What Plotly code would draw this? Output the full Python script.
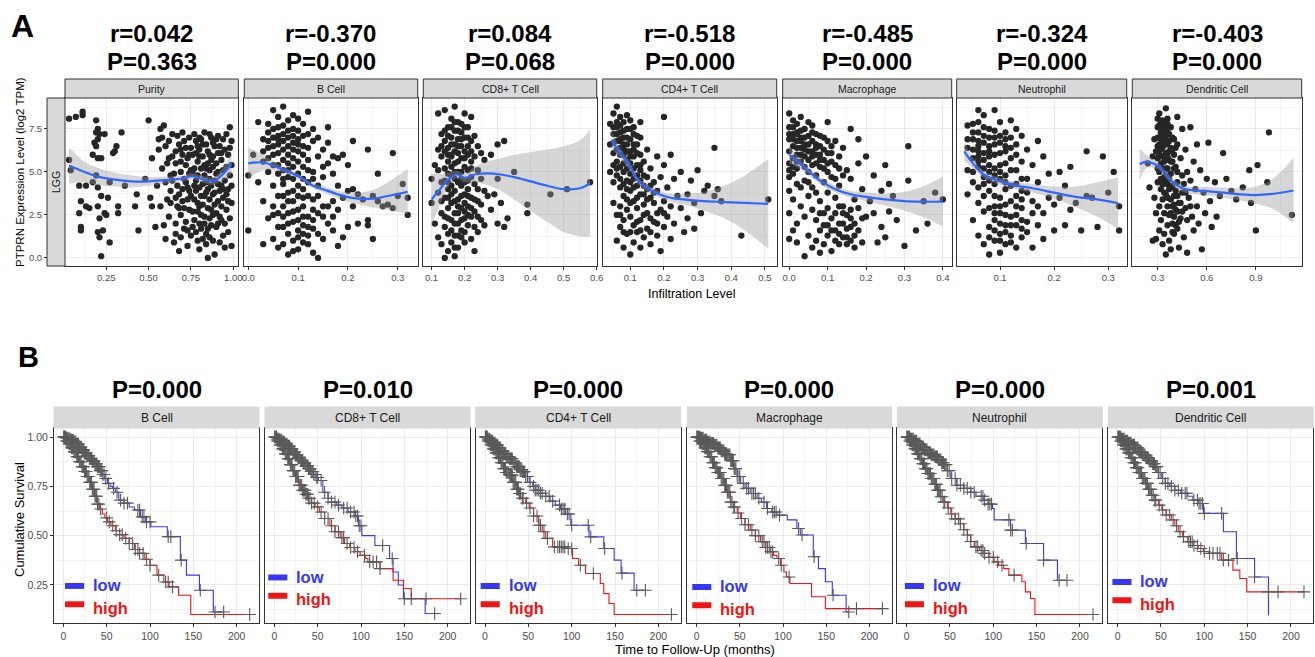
import plotly.graph_objects as go

W, H = 1315, 657
FONT = "Arial, 'Liberation Sans', Helvetica, sans-serif"

# ================= Panel A data =================
a_panels = ["Purity", "B Cell", "CD8+ T Cell", "CD4+ T Cell", "Macrophage", "Neutrophil", "Dendritic Cell"]
a_r_labels = ["r=0.042", "r=-0.370", "r=0.084", "r=-0.518", "r=-0.485", "r=-0.324", "r=-0.403"]
a_p_labels = ["P=0.363", "P=0.000", "P=0.068", "P=0.000", "P=0.000", "P=0.000", "P=0.000"]
a_row_label = "LGG"

purity_pts = [
    (0.03, 8.1), (0.07, 8.2), (0.11, 8.5), (0.11, 8.3), (0.04, 5.1), (0.03, 5.7), (0.09, 4.2), (0.10, 3.3),
    (0.13, 3.0), (0.15, 2.9), (0.09, 2.6), (0.10, 1.8), (0.10, 1.6), (0.13, 4.2), (0.19, 8.0), (0.20, 7.5),
    (0.19, 7.3), (0.21, 7.2), (0.20, 6.9), (0.18, 6.7), (0.19, 6.5), (0.17, 6.0), (0.20, 5.8), (0.19, 4.8),
    (0.17, 4.4), (0.22, 5.8), (0.20, 4.1), (0.22, 3.6), (0.20, 3.0), (0.21, 2.3), (0.20, 1.5), (0.21, 1.2),
    (0.22, 0.1), (0.24, 2.6), (0.23, 1.6), (0.25, 2.5), (0.26, 3.5), (0.27, 4.4), (0.29, 6.1), (0.30, 6.2),
    (0.24, 7.2), (0.31, 6.5), (0.27, 0.9), (0.32, 3.0), (0.34, 7.3), (0.36, 4.2), (0.32, 2.6), (0.43, 3.7),
    (0.42, 3.0), (0.44, 1.6), (0.48, 4.6), (0.50, 8.0), (0.52, 5.8), (0.51, 3.5), (0.52, 3.0), (0.54, 1.8),
    (0.55, 4.2), (0.56, 6.3), (0.57, 7.5), (0.59, 7.7),
    (0.56, 6.9), (0.58, 7.0), (0.60, 6.5), (0.62, 5.8), (0.58, 5.2), (0.60, 4.4), (0.63, 3.9), (0.57, 3.0),
    (0.62, 2.4), (0.60, 1.1), (0.65, 0.9), (0.64, 7.2), (0.66, 6.2), (0.65, 4.9), (0.63, 3.2), (0.66, 2.0),
    (0.61, 5.5), (0.59, 1.9), (0.67, 7.1), (0.68, 6.6), (0.70, 6.0), (0.72, 5.4), (0.69, 5.0), (0.71, 4.6),
    (0.73, 4.1), (0.68, 3.7), (0.70, 3.3), (0.74, 2.8), (0.69, 2.5), (0.72, 2.1), (0.71, 1.7), (0.75, 1.3),
    (0.68, 0.4), (0.73, 0.7), (0.74, 7.0), (0.75, 6.4), (0.70, 7.3), (0.73, 5.8), (0.74, 4.9), (0.67, 4.2),
    (0.75, 3.6), (0.71, 2.9), (0.69, 1.2), (0.77, 7.2), (0.78, 6.8), (0.80, 6.3), (0.82, 5.9), (0.79, 5.6),
    (0.81, 5.2), (0.83, 4.8), (0.78, 4.5), (0.80, 4.1), (0.84, 3.8), (0.77, 3.4), (0.82, 3.1), (0.79, 2.7),
    (0.83, 2.4), (0.80, 2.0), (0.85, 1.7), (0.78, 1.5), (0.82, 1.1), (0.84, 0.8), (0.80, 0.5), (0.85, 0.0),
    (0.76, 6.0), (0.84, 6.6), (0.85, 5.5), (0.76, 4.9), (0.84, 4.4), (0.81, 3.6), (0.77, 2.2), (0.85, 2.9),
    (0.83, 7.3), (0.87, 7.0), (0.89, 6.5), (0.91, 6.1), (0.93, 5.7), (0.88, 5.3), (0.90, 4.9), (0.95, 4.5),
    (0.87, 4.2), (0.92, 3.9), (0.94, 3.5), (0.89, 3.1), (0.96, 2.8), (0.88, 2.5), (0.93, 2.2), (0.90, 1.8),
    (0.97, 1.5), (0.86, 1.2), (0.92, 0.9), (0.95, 0.6), (0.89, 0.2), (0.98, 7.6), (0.96, 7.2), (0.99, 6.8),
    (0.97, 6.0), (0.99, 5.4), (0.98, 4.8), (0.97, 4.0), (0.99, 3.2), (0.98, 2.3), (0.99, 0.7), (0.94, 6.9),
    (0.86, 6.0), (0.91, 5.0), (0.96, 3.7), (0.90, 2.6),
    (0.79, 6.5), (0.81, 6.9), (0.88, 6.7), (0.92, 6.5), (0.86, 5.1), (0.83, 5.4), (0.89, 4.5), (0.93, 4.2),
    (0.78, 3.9), (0.86, 3.4), (0.91, 3.3), (0.83, 2.0), (0.87, 1.9), (0.76, 1.8), (0.72, 4.4), (0.66, 5.5),
    (0.71, 6.8), (0.77, 5.2), (0.80, 5.9), (0.87, 5.7), (0.90, 5.5), (0.94, 5.1), (0.95, 6.3), (0.82, 4.3),
    (0.85, 4.0), (0.88, 3.7), (0.93, 3.0), (0.79, 3.2), (0.74, 3.9), (0.81, 2.5), (0.86, 2.3), (0.91, 2.0),
    (0.84, 1.4), (0.88, 1.0), (0.94, 1.3), (0.79, 1.0), (0.73, 1.6), (0.67, 3.0), (0.64, 5.9), (0.69, 6.3),
    (0.62, 6.8), (0.64, 4.5), (0.66, 3.5), (0.68, 2.9), (0.70, 4.0), (0.72, 6.4), (0.73, 3.4), (0.75, 5.1),
    (0.76, 2.7), (0.77, 4.2), (0.78, 6.1), (0.79, 4.8), (0.80, 3.0), (0.81, 1.7), (0.82, 6.6), (0.83, 3.6),
    (0.84, 5.2), (0.85, 6.2), (0.86, 4.6), (0.87, 2.8), (0.88, 5.9), (0.89, 3.8), (0.90, 6.9), (0.91, 4.3),
    (0.92, 2.4), (0.93, 6.1), (0.94, 4.0), (0.95, 2.0), (0.96, 5.3), (0.97, 3.3), (0.98, 6.4), (0.99, 4.2),
    (0.80, 7.0), (0.86, 7.2), (0.91, 7.1), (0.74, 6.0), (0.69, 5.6), (0.63, 4.8), (0.61, 3.4), (0.66, 1.4),
]
bcell_pts = [
    (0.00, 1.6), (0.00, 4.8), (0.01, 6.0), (0.02, 7.9), (0.02, 4.4), (0.03, 0.8), (0.03, 6.9), (0.03, 5.6),
    (0.03, 3.3), (0.04, 7.3), (0.04, 6.4), (0.04, 5.0), (0.04, 2.3), (0.05, 8.6), (0.05, 7.0), (0.05, 6.0),
    (0.05, 4.2), (0.05, 1.1), (0.06, 7.6), (0.06, 6.6), (0.06, 5.4), (0.06, 3.6), (0.06, 2.6), (0.06, 0.6),
    (0.07, 8.8), (0.07, 7.2), (0.07, 6.3), (0.07, 5.1), (0.07, 4.3), (0.07, 3.0), (0.07, 1.8), (0.07, 0.8),
    (0.08, 8.0), (0.08, 7.0), (0.08, 6.0), (0.08, 5.5), (0.08, 3.8), (0.08, 2.6), (0.08, 1.4), (0.08, 0.2),
    (0.09, 7.5), (0.09, 6.7), (0.09, 5.8), (0.09, 4.6), (0.09, 3.3), (0.09, 2.1), (0.09, 1.0), (0.10, 8.1),
    (0.10, 6.9), (0.10, 6.2), (0.10, 4.9), (0.10, 3.6), (0.10, 2.8), (0.10, 1.6), (0.10, 0.5), (0.11, 7.8),
    (0.11, 6.5), (0.11, 5.3), (0.11, 4.0), (0.11, 3.0), (0.11, 1.9), (0.11, 0.9), (0.12, 8.5), (0.12, 7.2),
    (0.12, 5.7), (0.12, 4.4), (0.12, 2.4), (0.12, 1.3), (0.13, 6.8), (0.13, 5.0), (0.13, 3.4), (0.13, 1.7),
    (0.13, 0.3), (0.14, 7.0), (0.14, 5.9), (0.14, 4.2), (0.14, 2.6), (0.14, 0.0), (0.15, 6.3), (0.15, 4.7),
    (0.15, 3.0), (0.15, 1.1), (0.16, 7.6), (0.16, 5.5), (0.16, 2.0), (0.17, 4.9), (0.17, 3.3), (0.17, 1.6),
    (0.18, 5.8), (0.18, 2.8), (0.18, 0.7), (0.19, 6.0), (0.19, 3.5), (0.19, 1.2), (0.20, 5.4), (0.20, 3.9),
    (0.20, 1.8), (0.21, 4.0), (0.21, 3.0), (0.21, 6.8), (0.22, 2.0), (0.22, 3.7), (0.23, 3.4), (0.24, 6.3),
    (0.24, 2.2), (0.24, 1.9), (0.25, 1.1), (0.25, 3.6), (0.26, 4.9), (0.26, 3.3), (0.27, 3.0), (0.28, 3.1),
    (0.29, 6.1), (0.29, 2.9), (0.30, 3.6), (0.31, 4.3), (0.32, 3.5), (0.32, 2.5), (0.05, 3.0), (0.09, 8.3),
    (0.04, 7.8), (0.06, 8.2), (0.08, 4.7), (0.10, 7.4), (0.12, 6.4), (0.11, 2.4), (0.09, 0.4), (0.07, 2.4),
    (0.05, 6.5), (0.06, 7.1), (0.07, 5.7), (0.08, 6.5), (0.09, 7.1), (0.10, 5.6), (0.11, 6.0), (0.12, 3.6),
    (0.04, 6.8), (0.05, 7.5), (0.06, 6.1), (0.07, 7.7), (0.08, 7.4), (0.09, 6.3), (0.10, 6.6), (0.11, 7.1),
    (0.06, 4.9), (0.07, 4.6), (0.08, 3.3), (0.09, 2.7), (0.10, 2.2), (0.11, 3.5), (0.12, 1.8), (0.13, 2.2),
    (0.03, 6.2), (0.04, 5.8), (0.05, 5.4), (0.06, 6.9), (0.07, 6.8), (0.08, 5.1), (0.09, 5.3), (0.10, 4.2),
    (0.11, 4.6), (0.12, 5.1), (0.13, 4.6), (0.14, 3.6), (0.15, 2.4), (0.16, 3.0), (0.17, 2.4), (0.09, 3.9),
    (0.10, 1.2), (0.11, 1.4), (0.12, 0.8), (0.13, 2.8), (0.14, 1.4), (0.08, 2.0), (0.07, 3.6), (0.06, 1.8),
    (0.05, 2.5), (0.16, 6.7), (0.13, 7.5), (0.15, 5.3), (0.17, 5.9), (0.18, 4.2),
]
cd8_pts = [
    (0.10, 3.2), (0.10, 4.6), (0.11, 2.0), (0.11, 5.4), (0.12, 6.3), (0.12, 3.8), (0.12, 1.2), (0.13, 7.2),
    (0.13, 5.9), (0.13, 4.4), (0.13, 2.6), (0.13, 0.8), (0.14, 8.6), (0.14, 6.8), (0.14, 5.2), (0.14, 3.5),
    (0.14, 1.8), (0.15, 7.6), (0.15, 6.4), (0.15, 5.6), (0.15, 4.0), (0.15, 2.9), (0.15, 1.4), (0.15, 0.4),
    (0.16, 8.1), (0.16, 7.0), (0.16, 6.0), (0.16, 4.8), (0.16, 3.2), (0.16, 2.2), (0.16, 0.9), (0.17, 8.8),
    (0.17, 7.4), (0.17, 6.6), (0.17, 5.5), (0.17, 3.9), (0.17, 2.6), (0.17, 1.3), (0.17, 0.1), (0.18, 7.9),
    (0.18, 6.9), (0.18, 6.1), (0.18, 5.0), (0.18, 3.4), (0.18, 2.0), (0.18, 0.6), (0.19, 7.3), (0.19, 6.5),
    (0.19, 5.8), (0.19, 4.2), (0.19, 2.9), (0.19, 1.6), (0.20, 8.4), (0.20, 7.0), (0.20, 6.2), (0.20, 5.3),
    (0.20, 3.7), (0.20, 2.3), (0.20, 0.9), (0.21, 7.6), (0.21, 6.0), (0.21, 4.5), (0.21, 3.0), (0.21, 1.9),
    (0.22, 8.2), (0.22, 6.8), (0.22, 5.6), (0.22, 3.5), (0.22, 2.4), (0.22, 1.1), (0.23, 7.1), (0.23, 5.9),
    (0.23, 4.3), (0.23, 2.7), (0.23, 0.4), (0.24, 6.5), (0.24, 5.1), (0.24, 3.3), (0.24, 1.5), (0.25, 6.1),
    (0.25, 4.6), (0.25, 2.2), (0.26, 5.7), (0.26, 3.9), (0.26, 1.9), (0.27, 3.6), (0.28, 6.0), (0.28, 2.8),
    (0.29, 3.7), (0.30, 6.6), (0.30, 4.6), (0.30, 2.0), (0.31, 3.2), (0.32, 6.8), (0.32, 1.8), (0.33, 2.3),
    (0.35, 5.0), (0.39, 3.1), (0.39, 2.6), (0.46, 3.7), (0.51, 4.0), (0.58, 4.4), (0.12, 8.4), (0.14, 0.0),
    (0.15, 7.1), (0.17, 4.6), (0.19, 3.6), (0.21, 5.1), (0.16, 5.9), (0.18, 7.4), (0.20, 4.4), (0.14, 2.4),
    (0.14, 6.2), (0.16, 6.6), (0.17, 7.9), (0.18, 5.6), (0.19, 6.9), (0.20, 7.6), (0.21, 6.5), (0.22, 6.2),
    (0.15, 4.9), (0.16, 4.2), (0.17, 3.3), (0.18, 2.6), (0.19, 2.2), (0.20, 1.5), (0.21, 2.5), (0.18, 1.3),
    (0.16, 1.6), (0.15, 3.5), (0.19, 5.0), (0.21, 3.6), (0.23, 3.4), (0.24, 2.4), (0.22, 4.7), (0.14, 4.5),
    (0.13, 6.5), (0.14, 7.4), (0.15, 6.0), (0.16, 7.6), (0.17, 6.2), (0.18, 6.5), (0.19, 7.8), (0.20, 5.8),
    (0.21, 7.0), (0.22, 5.2), (0.16, 5.3), (0.17, 5.0), (0.18, 4.4), (0.15, 4.4), (0.19, 4.6), (0.20, 3.2),
    (0.21, 4.0), (0.16, 3.7), (0.17, 2.0), (0.18, 3.0), (0.19, 1.2), (0.20, 2.7), (0.22, 2.9), (0.23, 1.8),
    (0.17, 0.6), (0.15, 2.3), (0.13, 3.3), (0.12, 5.1), (0.24, 4.0), (0.25, 3.1),
]
cd4_pts = [
    (0.04, 7.8), (0.04, 6.6), (0.04, 5.0), (0.05, 8.4), (0.05, 7.2), (0.05, 6.1), (0.05, 4.4), (0.05, 3.2),
    (0.06, 8.8), (0.06, 7.6), (0.06, 6.8), (0.06, 5.6), (0.06, 4.8), (0.06, 2.5), (0.06, 1.0), (0.07, 8.2),
    (0.07, 7.3), (0.07, 6.4), (0.07, 5.3), (0.07, 4.1), (0.07, 3.0), (0.07, 1.8), (0.08, 7.9), (0.08, 7.0),
    (0.08, 6.0), (0.08, 5.0), (0.08, 3.6), (0.08, 2.2), (0.08, 0.6), (0.09, 7.5), (0.09, 6.6), (0.09, 5.7),
    (0.09, 4.5), (0.09, 2.8), (0.09, 1.4), (0.10, 8.0), (0.10, 6.9), (0.10, 6.2), (0.10, 4.9), (0.10, 3.9),
    (0.10, 2.4), (0.10, 0.2), (0.11, 7.2), (0.11, 5.9), (0.11, 4.6), (0.11, 3.3), (0.11, 1.9), (0.11, 0.9),
    (0.12, 6.6), (0.12, 5.4), (0.12, 4.2), (0.12, 2.9), (0.12, 1.5), (0.13, 7.0), (0.13, 6.0), (0.13, 3.7),
    (0.13, 2.2), (0.13, 0.6), (0.14, 5.6), (0.14, 4.8), (0.14, 3.1), (0.14, 1.2), (0.15, 6.3), (0.15, 4.0),
    (0.15, 2.6), (0.15, 1.7), (0.16, 5.2), (0.16, 3.5), (0.16, 0.8), (0.17, 4.4), (0.17, 2.1), (0.18, 5.9),
    (0.18, 3.9), (0.18, 1.3), (0.19, 4.7), (0.19, 2.8), (0.19, 0.4), (0.20, 5.4), (0.20, 3.3), (0.20, 1.8),
    (0.21, 4.1), (0.21, 2.4), (0.22, 6.0), (0.22, 3.0), (0.22, 1.1), (0.23, 4.6), (0.23, 2.0), (0.24, 3.6),
    (0.25, 5.0), (0.25, 2.9), (0.26, 1.5), (0.27, 3.7), (0.27, 2.3), (0.28, 4.5), (0.29, 3.2), (0.29, 1.7),
    (0.30, 5.1), (0.31, 2.6), (0.32, 3.9), (0.33, 4.2), (0.35, 6.4), (0.35, 3.6), (0.36, 4.0), (0.37, 3.3),
    (0.43, 1.3), (0.51, 3.4), (0.20, 8.2), (0.13, 7.9), (0.05, 5.4), (0.07, 7.7), (0.09, 8.3), (0.11, 6.6),
    (0.06, 7.2), (0.07, 6.0), (0.08, 6.6), (0.08, 7.4), (0.09, 6.2), (0.10, 5.5), (0.11, 5.2), (0.12, 6.1),
    (0.05, 7.6), (0.06, 6.3), (0.07, 6.8), (0.08, 5.5), (0.09, 7.0), (0.10, 7.5), (0.11, 6.3), (0.12, 4.8),
    (0.13, 5.1), (0.14, 4.2), (0.15, 3.4), (0.16, 2.3), (0.17, 3.2), (0.18, 2.6), (0.13, 1.6), (0.10, 3.2),
    (0.05, 6.7), (0.06, 7.9), (0.07, 6.9), (0.08, 6.3), (0.09, 5.2), (0.10, 5.9), (0.11, 7.6), (0.12, 7.1),
    (0.06, 5.2), (0.07, 4.6), (0.08, 4.3), (0.09, 4.0), (0.10, 4.4), (0.11, 4.1), (0.12, 3.5), (0.13, 4.5),
    (0.14, 3.7), (0.15, 4.7), (0.16, 4.2), (0.17, 3.8), (0.09, 3.4), (0.10, 1.5), (0.12, 2.1), (0.14, 2.5),
    (0.16, 1.5), (0.18, 2.0), (0.20, 2.6), (0.08, 1.5), (0.07, 2.5), (0.13, 5.4),
]
mac_pts = [
    (0.00, 8.4), (0.00, 7.6), (0.00, 6.9), (0.00, 6.2), (0.00, 5.5), (0.00, 4.7), (0.00, 3.9), (0.00, 2.6),
    (0.00, 1.1), (0.01, 8.0), (0.01, 7.2), (0.01, 6.5), (0.01, 5.8), (0.01, 4.9), (0.01, 3.4), (0.01, 1.6),
    (0.02, 7.8), (0.02, 6.8), (0.02, 6.0), (0.02, 5.2), (0.02, 4.3), (0.02, 2.0), (0.02, 0.9), (0.03, 8.2),
    (0.03, 7.0), (0.03, 6.4), (0.03, 5.6), (0.03, 3.0), (0.04, 7.5), (0.04, 6.6), (0.04, 5.9), (0.04, 4.5),
    (0.04, 2.4), (0.04, 0.1), (0.05, 7.1), (0.05, 6.2), (0.05, 5.0), (0.05, 3.6), (0.05, 1.3), (0.06, 7.7),
    (0.06, 6.8), (0.06, 5.4), (0.06, 4.1), (0.06, 2.8), (0.06, 0.6), (0.07, 7.2), (0.07, 6.0), (0.07, 4.8),
    (0.07, 2.2), (0.07, 1.0), (0.08, 6.5), (0.08, 5.7), (0.08, 3.3), (0.08, 1.6), (0.09, 7.0), (0.09, 5.2),
    (0.09, 4.4), (0.09, 2.6), (0.09, 0.8), (0.10, 7.9), (0.10, 6.1), (0.10, 3.8), (0.10, 1.9), (0.10, 1.3),
    (0.11, 5.6), (0.11, 4.7), (0.11, 2.3), (0.11, 0.4), (0.12, 6.8), (0.12, 3.5), (0.12, 1.6), (0.13, 5.9),
    (0.13, 4.2), (0.13, 2.0), (0.14, 6.4), (0.14, 3.0), (0.14, 1.2), (0.15, 5.1), (0.15, 2.5), (0.15, 0.8),
    (0.16, 7.5), (0.16, 4.6), (0.16, 1.8), (0.17, 3.4), (0.17, 1.3), (0.17, 0.6), (0.18, 5.5), (0.18, 2.9),
    (0.18, 6.9), (0.19, 4.0), (0.19, 0.9), (0.20, 5.9), (0.20, 2.4), (0.21, 3.3), (0.22, 4.8), (0.22, 2.6),
    (0.23, 0.9), (0.24, 3.9), (0.24, 1.8), (0.25, 5.4), (0.25, 1.2), (0.26, 4.3), (0.26, 2.7), (0.27, 3.6),
    (0.28, 2.2), (0.30, 0.7), (0.31, 6.5), (0.31, 4.5), (0.33, 1.6), (0.35, 3.3), (0.36, 2.0), (0.38, 3.8),
    (0.40, 3.4), (0.03, 4.1), (0.05, 7.9), (0.07, 6.6), (0.08, 0.3), (0.12, 1.0), (0.14, 2.0), (0.16, 1.0),
    (0.01, 7.6), (0.02, 6.4), (0.03, 7.4), (0.04, 7.0), (0.05, 6.6), (0.06, 6.2), (0.08, 7.1), (0.09, 6.3),
    (0.01, 6.9), (0.02, 7.3), (0.03, 6.0), (0.04, 5.3), (0.06, 7.3), (0.07, 5.5), (0.08, 6.0), (0.10, 5.0),
    (0.11, 6.5), (0.12, 5.4), (0.13, 3.0), (0.14, 2.6), (0.15, 1.7), (0.16, 2.3), (0.17, 2.0), (0.13, 1.4),
    (0.00, 7.2), (0.00, 5.1), (0.01, 5.3), (0.02, 5.6), (0.02, 7.2), (0.03, 6.8), (0.04, 6.3), (0.05, 5.7),
    (0.06, 5.9), (0.07, 6.4), (0.08, 5.3), (0.09, 5.7), (0.10, 5.5), (0.10, 6.8), (0.11, 6.1), (0.12, 4.6),
    (0.13, 5.2), (0.14, 4.8), (0.05, 4.4), (0.07, 3.8), (0.08, 2.6), (0.09, 1.9), (0.10, 2.9), (0.11, 1.6),
    (0.12, 2.6), (0.13, 0.8), (0.15, 1.2), (0.16, 2.8), (0.18, 1.6), (0.19, 2.3),
]
neut_pts = [
    (0.04, 7.7), (0.04, 6.4), (0.04, 5.1), (0.04, 3.7), (0.05, 6.9), (0.05, 5.8), (0.05, 4.4), (0.05, 2.2),
    (0.06, 7.3), (0.06, 6.2), (0.06, 5.3), (0.06, 3.2), (0.06, 1.3), (0.07, 8.3), (0.07, 6.7), (0.07, 5.7),
    (0.07, 4.7), (0.07, 2.7), (0.07, 0.8), (0.08, 7.5), (0.08, 6.5), (0.08, 5.0), (0.08, 3.9), (0.08, 1.8),
    (0.08, 0.2), (0.09, 7.0), (0.09, 6.0), (0.09, 4.3), (0.09, 3.0), (0.09, 2.2), (0.09, 1.0), (0.10, 7.9),
    (0.10, 6.7), (0.10, 5.4), (0.10, 3.5), (0.10, 2.6), (0.10, 1.4), (0.10, 0.3), (0.11, 7.3), (0.11, 6.2),
    (0.11, 4.8), (0.11, 3.1), (0.11, 1.9), (0.11, 0.8), (0.12, 8.0), (0.12, 5.8), (0.12, 4.2), (0.12, 2.4),
    (0.12, 1.3), (0.13, 6.6), (0.13, 5.1), (0.13, 3.6), (0.13, 0.6), (0.14, 7.1), (0.14, 4.6), (0.14, 2.9),
    (0.14, 1.7), (0.15, 6.3), (0.15, 3.8), (0.15, 2.1), (0.16, 5.4), (0.16, 3.3), (0.16, 0.6), (0.17, 6.8),
    (0.17, 4.4), (0.17, 1.9), (0.18, 5.9), (0.18, 2.6), (0.18, 1.1), (0.19, 4.9), (0.19, 3.5), (0.20, 3.1),
    (0.20, 1.6), (0.21, 5.0), (0.21, 3.5), (0.22, 4.2), (0.22, 1.9), (0.23, 5.3), (0.23, 2.8), (0.24, 3.2),
    (0.25, 1.6), (0.26, 6.2), (0.26, 3.6), (0.27, 3.5), (0.28, 1.8), (0.29, 5.9), (0.30, 3.8), (0.31, 5.0),
    (0.32, 1.6), (0.32, 3.0), (0.06, 8.6), (0.09, 8.6), (0.05, 6.3), (0.07, 3.6), (0.08, 7.0), (0.10, 4.6),
    (0.09, 5.2), (0.11, 5.5), (0.12, 3.3), (0.13, 7.5), (0.14, 3.9), (0.06, 4.1), (0.08, 2.9), (0.10, 2.0),
    (0.05, 7.3), (0.06, 6.8), (0.07, 6.1), (0.08, 5.9), (0.09, 6.6), (0.10, 6.1), (0.11, 6.9), (0.12, 6.4),
    (0.05, 5.0), (0.06, 5.9), (0.07, 7.1), (0.08, 4.5), (0.09, 3.6), (0.10, 3.0), (0.11, 2.5), (0.12, 1.9),
    (0.13, 2.5), (0.14, 2.2), (0.09, 1.6), (0.08, 1.2), (0.13, 4.3), (0.11, 4.0), (0.07, 5.2), (0.06, 7.9),
    (0.04, 6.9), (0.05, 7.8), (0.06, 6.5), (0.07, 7.6), (0.08, 6.2), (0.09, 7.4), (0.10, 7.1), (0.11, 6.5),
    (0.12, 7.0), (0.13, 6.0), (0.14, 5.6), (0.06, 5.6), (0.07, 4.3), (0.08, 5.4), (0.09, 4.8), (0.10, 5.0),
    (0.11, 4.4), (0.12, 5.1), (0.13, 3.0), (0.14, 3.4), (0.09, 2.6), (0.10, 1.0), (0.11, 1.5), (0.12, 0.9),
    (0.13, 1.9), (0.14, 1.2), (0.15, 1.5), (0.16, 2.6), (0.17, 3.0), (0.15, 4.6),
]
dc_pts = [
    (0.24, 5.5), (0.25, 4.1), (0.27, 5.9), (0.28, 6.9), (0.28, 3.5), (0.29, 2.6), (0.29, 1.1), (0.30, 7.6),
    (0.30, 6.5), (0.30, 5.2), (0.30, 4.4), (0.31, 8.4), (0.31, 7.0), (0.31, 6.0), (0.31, 3.0), (0.31, 1.6),
    (0.32, 7.3), (0.32, 6.3), (0.32, 5.5), (0.32, 4.0), (0.32, 2.2), (0.33, 8.0), (0.33, 6.8), (0.33, 5.9),
    (0.33, 3.4), (0.33, 0.8), (0.34, 7.5), (0.34, 6.6), (0.34, 4.7), (0.34, 2.6), (0.34, 1.4), (0.35, 8.7),
    (0.35, 7.1), (0.35, 6.1), (0.35, 5.2), (0.35, 3.7), (0.35, 0.2), (0.36, 7.8), (0.36, 6.7), (0.36, 4.3),
    (0.36, 3.0), (0.36, 1.9), (0.37, 7.2), (0.37, 5.7), (0.37, 2.5), (0.37, 1.0), (0.38, 6.4), (0.38, 4.9),
    (0.38, 3.4), (0.38, 0.5), (0.39, 7.0), (0.39, 4.1), (0.39, 2.0), (0.40, 6.0), (0.40, 3.6), (0.40, 1.4),
    (0.41, 5.3), (0.41, 2.8), (0.42, 8.2), (0.42, 6.6), (0.42, 4.4), (0.42, 1.7), (0.43, 3.2), (0.43, 0.6),
    (0.44, 5.8), (0.44, 2.3), (0.45, 7.5), (0.45, 4.8), (0.45, 3.8), (0.46, 1.2), (0.47, 6.3), (0.47, 2.9),
    (0.48, 5.0), (0.48, 0.3), (0.49, 3.5), (0.50, 7.6), (0.50, 4.5), (0.51, 2.4), (0.52, 5.6), (0.52, 1.6),
    (0.53, 4.0), (0.54, 6.6), (0.54, 3.0), (0.55, 2.0), (0.56, 5.1), (0.57, 0.5), (0.58, 3.8), (0.59, 2.6),
    (0.60, 4.6), (0.61, 6.7), (0.62, 3.3), (0.63, 1.8), (0.65, 4.4), (0.66, 2.4), (0.68, 3.6), (0.70, 6.1),
    (0.72, 4.6), (0.75, 3.9), (0.78, 3.4), (0.82, 4.1), (0.86, 5.1), (0.87, 3.2), (0.90, 1.6), (0.91, 5.4),
    (0.97, 4.4), (0.98, 7.3), (1.12, 2.5), (0.30, 8.1), (0.27, 1.0), (0.33, 7.2), (0.34, 5.6), (0.36, 5.9),
    (0.31, 7.7), (0.32, 6.9), (0.33, 6.4), (0.34, 7.9), (0.35, 6.6), (0.36, 7.3), (0.37, 6.2), (0.38, 7.6),
    (0.30, 5.8), (0.31, 5.0), (0.32, 4.6), (0.33, 4.3), (0.34, 3.8), (0.35, 4.5), (0.36, 3.5), (0.37, 4.0),
    (0.38, 2.6), (0.39, 3.0), (0.40, 2.4), (0.41, 3.9), (0.42, 2.7), (0.43, 2.1), (0.39, 5.6), (0.40, 6.9),
    (0.29, 6.2), (0.30, 7.0), (0.31, 6.6), (0.32, 7.9), (0.33, 7.6), (0.34, 7.0), (0.35, 7.6), (0.36, 8.1),
    (0.37, 6.8), (0.38, 5.6), (0.39, 6.3), (0.40, 5.2), (0.41, 6.4), (0.42, 5.0), (0.33, 5.2), (0.34, 4.3),
    (0.35, 4.8), (0.36, 5.2), (0.37, 4.6), (0.38, 4.2), (0.39, 1.5), (0.40, 3.1), (0.41, 1.9), (0.42, 3.6),
    (0.44, 3.2), (0.45, 2.7), (0.46, 4.3), (0.47, 3.8), (0.48, 2.2), (0.50, 3.0),
]
a_points = [purity_pts, bcell_pts, cd8_pts, cd4_pts, mac_pts, neut_pts, dc_pts]

# LOESS fit (x, fit, lower, upper)
purity_fit_x = [0.03, 0.12, 0.2, 0.3, 0.4, 0.5, 0.6, 0.7, 0.76, 0.8, 0.85, 0.88, 0.92, 0.96, 0.99]
purity_fit_y = [5.37, 5.0, 4.73, 4.55, 4.45, 4.45, 4.53, 4.62, 4.75, 4.63, 4.5, 4.45, 4.7, 5.1, 5.5]
purity_fit_lo = [4.32, 4.4, 4.23, 4.15, 4.1, 4.2, 4.33, 4.44, 4.57, 4.45, 4.3, 4.23, 4.4, 4.65, 4.9]
purity_fit_hi = [6.42, 5.6, 5.23, 4.95, 4.8, 4.7, 4.73, 4.8, 4.93, 4.81, 4.7, 4.67, 5.0, 5.55, 6.1]

bcell_fit_x = [0.0, 0.03, 0.06, 0.1, 0.13, 0.16, 0.19, 0.22, 0.25, 0.28, 0.32]
bcell_fit_y = [5.5, 5.55, 5.25, 4.75, 4.2, 3.9, 3.6, 3.45, 3.45, 3.6, 3.85]
bcell_fit_lo = [4.6, 5.1, 5.05, 4.6, 4.05, 3.7, 3.35, 3.1, 2.95, 2.8, 2.55]
bcell_fit_hi = [6.4, 6.0, 5.45, 4.9, 4.35, 4.1, 3.85, 3.8, 3.95, 4.4, 5.15]

cd8_fit_x = [0.1, 0.13, 0.15, 0.176, 0.2, 0.23, 0.27, 0.31, 0.35, 0.4, 0.45, 0.5, 0.55, 0.58]
cd8_fit_y = [3.4, 4.1, 4.55, 4.85, 4.65, 4.85, 4.92, 4.85, 4.7, 4.45, 4.2, 4.0, 4.05, 4.35]
cd8_fit_lo = [1.9, 3.3, 4.15, 4.63, 4.4, 4.4, 4.22, 3.9, 3.4, 2.75, 2.1, 1.5, 1.25, 1.25]
cd8_fit_hi = [4.9, 4.9, 4.95, 5.07, 4.9, 5.3, 5.62, 5.8, 6.0, 6.15, 6.3, 6.5, 6.85, 7.45]

cd4_fit_x = [0.044, 0.07, 0.1, 0.12, 0.14, 0.18, 0.22, 0.27, 0.32, 0.38, 0.44, 0.51]
cd4_fit_y = [6.85, 6.1, 5.3, 4.55, 4.2, 3.75, 3.5, 3.38, 3.3, 3.25, 3.2, 3.14]
cd4_fit_lo = [6.35, 5.8, 5.05, 4.35, 4.0, 3.55, 3.25, 3.03, 2.75, 2.3, 1.6, 0.54]
cd4_fit_hi = [7.35, 6.4, 5.55, 4.75, 4.4, 3.95, 3.75, 3.73, 3.85, 4.2, 4.8, 5.74]

mac_fit_x = [0.0, 0.04, 0.08, 0.12, 0.16, 0.2, 0.25, 0.3, 0.35, 0.4]
mac_fit_y = [6.0, 5.25, 4.5, 4.0, 3.7, 3.55, 3.4, 3.3, 3.27, 3.27]
mac_fit_lo = [5.5, 5.0, 4.3, 3.8, 3.5, 3.3, 3.05, 2.75, 2.37, 1.82]
mac_fit_hi = [6.5, 5.5, 4.7, 4.2, 3.9, 3.8, 3.75, 3.85, 4.17, 4.72]

neut_fit_x = [0.034, 0.05, 0.07, 0.1, 0.13, 0.16, 0.2, 0.24, 0.28, 0.318]
neut_fit_y = [6.2, 5.5, 4.85, 4.45, 4.2, 4.05, 3.8, 3.55, 3.4, 3.18]
neut_fit_lo = [5.65, 5.2, 4.65, 4.25, 4.0, 3.8, 3.45, 2.95, 2.4, 1.68]
neut_fit_hi = [6.75, 5.8, 5.05, 4.65, 4.4, 4.3, 4.15, 4.15, 4.4, 4.68]

dc_fit_x = [0.19, 0.23, 0.27, 0.31, 0.35, 0.4, 0.45, 0.5, 0.6, 0.7, 0.8, 0.9, 1.0, 1.13]
dc_fit_y = [5.45, 5.6, 5.5, 5.3, 4.85, 4.35, 4.05, 3.95, 3.88, 3.8, 3.7, 3.65, 3.72, 3.92]
dc_fit_lo = [4.55, 5.2, 5.25, 5.1, 4.65, 4.15, 3.85, 3.75, 3.63, 3.5, 3.35, 3.15, 2.87, 2.02]
dc_fit_hi = [6.35, 6.0, 5.75, 5.5, 5.05, 4.55, 4.25, 4.15, 4.13, 4.1, 4.05, 4.15, 4.57, 5.82]

a_fits = [
    (purity_fit_x, purity_fit_y, purity_fit_lo, purity_fit_hi),
    (bcell_fit_x, bcell_fit_y, bcell_fit_lo, bcell_fit_hi),
    (cd8_fit_x, cd8_fit_y, cd8_fit_lo, cd8_fit_hi),
    (cd4_fit_x, cd4_fit_y, cd4_fit_lo, cd4_fit_hi),
    (mac_fit_x, mac_fit_y, mac_fit_lo, mac_fit_hi),
    (neut_fit_x, neut_fit_y, neut_fit_lo, neut_fit_hi),
    (dc_fit_x, dc_fit_y, dc_fit_lo, dc_fit_hi),
]

# ================= Panel B data =================
b_panels = ["B Cell", "CD8+ T Cell", "CD4+ T Cell", "Macrophage", "Neutrophil", "Dendritic Cell"]
b_p_labels = ["P=0.000", "P=0.010", "P=0.000", "P=0.000", "P=0.000", "P=0.001"]
b_groups = ["low", "high"]

early_cens_low = [0.5, 1.5, 2.5, 3.5, 4.5, 5.5, 6.5, 7.5, 8.5, 9.5, 10.5, 11.5, 12.5, 13.5, 14.5, 15.5, 16.5,
                  17.5, 18.5, 19.5, 20.5, 21.5, 22.5, 23.5, 24.5, 25.5, 26.5, 27.5, 28.5, 29.5, 30.5, 31.5,
                  32.5, 33.5, 34.5, 35.5, 36.5, 37.5, 38.5, 39.5, 40.5, 41.5, 42.5, 43.5, 44.5, 45.5, 47, 49]
early_cens_high = [0.5, 1.5, 2.5, 3.5, 4.5, 5.5, 6.5, 7.5, 8.5, 9.5, 10.5, 11.5, 12.5, 13.5, 14.5, 15.5, 16.5,
                   17.5, 18.5, 19.5, 20.5, 21.5, 22.5, 23.5, 24.5, 25.5, 26.5, 27.5, 28.5, 29.5, 30.5, 31.5,
                   32.5, 33.5, 34.5, 35.5, 36.5, 37.5, 38.5, 39.5, 41, 43]

bc_low_t = [0, 3, 6, 9, 12, 15, 18, 21, 24, 27, 30, 33, 36, 39, 42, 45, 48, 51, 54, 57, 60, 64, 70, 76, 82, 89, 95, 101, 120, 135, 142, 157, 173]
bc_low_s = [1, .995, .99, .983, .976, .965, .95, .935, .92, .905, .89, .878, .865, .85, .83, .81, .79, .765, .75, .74, .72, .68, .665, .645, .63, .595, .57, .545, .495, .376, .30, .223, .113]
bc_high_t = [0, 3, 6, 9, 12, 15, 18, 21, 24, 27, 30, 33, 36, 39, 42, 45, 48, 51, 55, 60, 65, 70, 76, 82, 88, 94, 100, 108, 116, 122, 133, 147]
bc_high_s = [1, .98, .965, .945, .925, .9, .875, .85, .825, .8, .77, .735, .7, .66, .635, .61, .59, .57, .55, .525, .505, .486, .46, .43, .41, .38, .35, .30, .265, .24, .198, .10]
bc_low_cens = [52, 58, 62, 66, 70, 74, 86, 88, 91, 93, 96, 100, 121, 124, 136, 158, 175, 185]
bc_high_cens = [50, 53, 57, 61, 65, 68, 72, 76, 80, 83, 86, 88, 92, 96, 100, 110, 118, 121, 126, 215]

cd8_low_t = [0, 3, 6, 9, 12, 15, 18, 21, 24, 27, 30, 33, 36, 39, 42, 45, 48, 51, 56, 62, 66, 72, 78, 85, 93, 97, 101, 116, 133, 137, 143, 149, 174]
cd8_low_s = [1, .99, .985, .975, .965, .955, .94, .925, .91, .895, .88, .87, .855, .84, .825, .81, .795, .78, .72, .69, .67, .655, .64, .62, .60, .55, .50, .45, .384, .316, .25, .18, .105]
cd8_high_t = [0, 3, 6, 9, 12, 15, 18, 21, 24, 28, 32, 36, 39, 43, 47, 52, 58, 64, 70, 76, 81, 87, 93, 99, 105, 108, 122, 137, 149, 158]
cd8_high_s = [1, .98, .96, .94, .915, .89, .86, .83, .8, .756, .73, .71, .69, .665, .646, .62, .587, .55, .52, .49, .46, .44, .418, .40, .384, .367, .333, .274, .232, .18]
cd8_low_cens = [50, 54, 58, 62, 66, 70, 74, 80, 84, 88, 92, 94, 96, 98, 100, 125, 136, 150, 185]
cd8_high_cens = [46, 50, 54, 58, 62, 66, 70, 74, 78, 80, 84, 88, 92, 96, 104, 110, 114, 118, 122, 158, 175, 215]

cd4_low_t = [0, 3, 6, 9, 12, 15, 18, 21, 24, 28, 32, 36, 40, 43, 47, 51, 55, 58, 64, 70, 75, 81, 87, 93, 99, 120, 137, 149, 157, 172]
cd4_low_s = [1, .99, .98, .97, .96, .945, .93, .915, .9, .89, .87, .85, .835, .824, .8, .77, .75, .73, .715, .70, .675, .655, .635, .61, .553, .494, .435, .376, .31, .223]
cd4_high_t = [0, 3, 6, 9, 12, 15, 18, 21, 24, 28, 32, 36, 39, 43, 47, 51, 56, 62, 66, 70, 78, 95, 101, 108, 116, 133, 137, 143, 149]
cd4_high_s = [1, .98, .96, .94, .92, .895, .87, .84, .82, .807, .77, .735, .714, .69, .665, .64, .6, .553, .52, .486, .443, .435, .384, .35, .308, .257, .206, .156, .10]
cd4_low_cens = [52, 56, 58, 60, 62, 64, 66, 70, 74, 78, 86, 88, 90, 92, 95, 97, 100, 119, 122, 138, 158, 175, 185]
cd4_high_cens = [40, 44, 48, 52, 56, 60, 62, 64, 68, 72, 80, 84, 86, 88, 90, 92, 96, 100, 110, 125, 215]

mac_low_t = [0, 4, 8, 12, 16, 20, 24, 28, 32, 35, 39, 43, 47, 51, 56, 62, 70, 75, 81, 87, 93, 105, 116, 120, 135, 141, 149, 157, 173]
mac_low_s = [1, .995, .985, .975, .968, .96, .945, .93, .915, .91, .88, .84, .8, .765, .74, .714, .69, .67, .638, .62, .604, .58, .536, .503, .393, .333, .266, .198, .113]
mac_high_t = [0, 3, 6, 9, 12, 15, 18, 21, 24, 28, 32, 35, 39, 43, 47, 51, 56, 62, 68, 74, 80, 85, 89, 93, 97, 101, 104, 108, 133, 149]
mac_high_s = [1, .98, .965, .945, .926, .9, .87, .845, .82, .79, .755, .72, .67, .645, .615, .587, .555, .528, .50, .469, .44, .418, .40, .384, .35, .316, .29, .257, .19, .13]
mac_low_cens = [50, 54, 58, 60, 64, 66, 68, 72, 78, 82, 88, 90, 92, 96, 118, 122, 136, 158, 176]
mac_high_cens = [44, 48, 52, 56, 60, 64, 68, 72, 76, 78, 80, 82, 84, 86, 88, 95, 98, 107, 185, 215]

neut_low_t = [0, 4, 8, 12, 16, 20, 24, 28, 32, 36, 40, 43, 47, 51, 58, 66, 74, 80, 89, 94, 99, 101, 120, 137, 158, 174]
neut_low_s = [1, .99, .98, .965, .95, .935, .92, .91, .9, .885, .87, .86, .83, .79, .756, .74, .72, .70, .68, .66, .638, .58, .528, .46, .376, .274]
neut_high_t = [0, 3, 6, 9, 12, 15, 18, 21, 24, 28, 32, 35, 39, 43, 47, 51, 56, 62, 66, 70, 74, 78, 84, 89, 95, 101, 106, 112, 118, 133, 137, 143, 148]
neut_high_s = [1, .98, .96, .94, .915, .89, .865, .84, .815, .79, .76, .73, .697, .67, .64, .61, .585, .56, .53, .503, .47, .443, .425, .41, .39, .367, .35, .333, .30, .266, .215, .181, .10]
neut_low_cens = [52, 56, 58, 62, 66, 70, 74, 78, 86, 88, 90, 94, 96, 98, 118, 120, 122, 138, 158, 176, 185]
neut_high_cens = [44, 48, 52, 56, 60, 62, 66, 70, 74, 80, 82, 86, 88, 90, 95, 100, 105, 110, 124, 215]

dc_low_t = [0, 4, 8, 12, 16, 20, 24, 28, 32, 36, 40, 43, 47, 51, 55, 60, 66, 73, 81, 87, 93, 99, 122, 137, 158, 174]
dc_low_s = [1, .99, .98, .97, .96, .945, .925, .91, .895, .88, .865, .85, .82, .79, .765, .75, .73, .715, .70, .68, .663, .613, .52, .384, .29, .096]
dc_high_t = [0, 3, 6, 9, 12, 15, 18, 21, 24, 28, 32, 35, 39, 43, 47, 51, 56, 62, 66, 70, 75, 81, 87, 93, 99, 105, 120, 133, 141, 149]
dc_high_s = [1, .98, .96, .94, .92, .895, .87, .845, .82, .79, .765, .735, .705, .68, .655, .63, .605, .58, .55, .52, .495, .469, .45, .435, .42, .41, .376, .325, .283, .215]
dc_low_cens = [52, 55, 58, 62, 66, 70, 74, 78, 80, 88, 92, 94, 96, 98, 100, 120, 138, 158]
dc_high_cens = [44, 48, 52, 56, 60, 64, 68, 72, 76, 82, 84, 86, 88, 92, 96, 100, 106, 110, 115, 118, 122, 128, 174, 185, 215]

b_curves = [
    ((bc_low_t, bc_low_s, bc_low_cens), (bc_high_t, bc_high_s, bc_high_cens)),
    ((cd8_low_t, cd8_low_s, cd8_low_cens), (cd8_high_t, cd8_high_s, cd8_high_cens)),
    ((cd4_low_t, cd4_low_s, cd4_low_cens), (cd4_high_t, cd4_high_s, cd4_high_cens)),
    ((mac_low_t, mac_low_s, mac_low_cens), (mac_high_t, mac_high_s, mac_high_cens)),
    ((neut_low_t, neut_low_s, neut_low_cens), (neut_high_t, neut_high_s, neut_high_cens)),
    ((dc_low_t, dc_low_s, dc_low_cens), (dc_high_t, dc_high_s, dc_high_cens)),
]

# ================= layout geometry (pixels) =================
A_lefts = [65, 244.3, 423.3, 602.7, 782.7, 956.7, 1132.3]
A_rights = [238.3, 417.7, 596.7, 776.7, 951.7, 1126.7, 1301.7]
A_top, A_bot, A_strip_top = 98, 266, 79
A_xranges = [[0.006, 1.03], [-0.008, 0.34], [0.075, 0.6], [0.018, 0.535], [-0.017, 0.423], [0.02, 0.334], [0.145, 1.18]]
A_dticks = [0.25, 0.1, 0.1, 0.1, 0.1, 0.1, 0.3]
A_fmts = [".2f", ".1f", ".1f", ".1f", ".1f", ".1f", ".1f"]
A_yrange = [-0.47, 9.3]

B_lefts = [54, 265, 475.7, 687.3, 897.3, 1108.3]
B_rights = [259, 470, 680.7, 891.7, 1102.3, 1313.3]
B_top, B_bot, B_strip_top = 428, 623, 407
B_xrange = [-10.75, 225.75]
B_yrange = [0.057, 1.046]
B_leg_x = [2, -7, -5, -5, -2, -6]
B_leg_y = [(0.245, 0.152), (0.288, 0.195), (0.245, 0.152), (0.24, 0.147), (0.245, 0.152), (0.265, 0.172)]
B_leg_text_dy = [0.004, -0.018]

COL_LOW = "#3636F5"
COL_HIGH = "#F01414"
CROSS = "#5A5A5A"
GRID = "#EBEBEB"
MINOR = "#F4F4F4"
BORDER = "#333333"
TICKC = "#4D4D4D"


def xp(p):
    return p / W


def yp(p):
    return 1 - p / H


def step_value(t, ts, ss):
    v = ss[0]
    for ti, si in zip(ts, ss):
        if ti <= t:
            v = si
        else:
            break
    return v


def note(text, x, y, size, color="black", angle=0, xanchor="center", xref="paper", yref="paper"):
    return dict(text=text, x=x, y=y, xref=xref, yref=yref, xanchor=xanchor, yanchor="middle",
                textangle=angle, showarrow=False, font=dict(size=size, color=color, family=FONT))


fig = go.Figure()
layout = {}
shapes = []
annotations = []

# ---------- Panel A ----------
for i in range(7):
    k = i + 1
    xa, ya = f"x{k}", f"y{k}"
    pts = a_points[i]
    fig.add_trace(go.Scatter(x=[p[0] for p in pts], y=[p[1] for p in pts], mode="markers",
                             marker=dict(color="#262626", size=6.3), xaxis=xa, yaxis=ya,
                             showlegend=False, hoverinfo="skip"))
    fx, fy, flo, fhi = a_fits[i]
    fig.add_trace(go.Scatter(x=fx, y=flo, mode="lines", line=dict(width=0, shape="spline"),
                             xaxis=xa, yaxis=ya, showlegend=False, hoverinfo="skip"))
    fig.add_trace(go.Scatter(x=fx, y=fhi, mode="lines", line=dict(width=0, shape="spline"),
                             fill="tonexty", fillcolor="rgba(153,153,153,0.4)",
                             xaxis=xa, yaxis=ya, showlegend=False, hoverinfo="skip"))
    fig.add_trace(go.Scatter(x=fx, y=fy, mode="lines", line=dict(color="#3366FF", width=2.2, shape="spline"),
                             xaxis=xa, yaxis=ya, showlegend=False, hoverinfo="skip"))

    layout[f"xaxis{k}"] = dict(
        domain=[xp(A_lefts[i]), xp(A_rights[i])], range=A_xranges[i], anchor=ya, automargin=False,
        tickmode="linear", tick0=0, dtick=A_dticks[i], tickformat=A_fmts[i],
        ticks="outside", ticklen=3, tickcolor=BORDER, tickfont=dict(size=9.5, color=TICKC, family=FONT),
        showgrid=True, gridcolor=GRID, gridwidth=1,
        minor=dict(tick0=0, dtick=A_dticks[i] / 2, showgrid=True, gridcolor=MINOR, gridwidth=0.8),
        showline=True, mirror=True, linecolor=BORDER, linewidth=1, zeroline=False, fixedrange=True)
    layout[f"yaxis{k}"] = dict(
        domain=[yp(A_bot), yp(A_top)], range=A_yrange, anchor=xa, automargin=False,
        tickmode="linear", tick0=0, dtick=2.5, showticklabels=False, ticks="",
        showgrid=True, gridcolor=GRID, gridwidth=1,
        minor=dict(tick0=0, dtick=1.25, showgrid=True, gridcolor=MINOR, gridwidth=0.8),
        showline=True, mirror=True, linecolor=BORDER, linewidth=1, zeroline=False, fixedrange=True)

    shapes.append(dict(type="rect", xref="paper", yref="paper",
                       x0=xp(A_lefts[i]), x1=xp(A_rights[i]), y0=yp(A_top), y1=yp(A_strip_top),
                       fillcolor="#D9D9D9", line=dict(color=BORDER, width=1), layer="above"))
    cx = xp((A_lefts[i] + A_rights[i]) / 2)
    annotations.append(note(a_panels[i], cx, yp((A_top + A_strip_top) / 2), 10.5, "#1A1A1A"))
    annotations.append(note(f"<b>{a_r_labels[i]}</b>", cx, yp(33), 24))
    annotations.append(note(f"<b>{a_p_labels[i]}</b>", cx, yp(61), 24))

# overlay y axis for tick labels left of the LGG strip
layout["yaxis14"] = dict(overlaying="y", anchor="free", position=xp(47), side="left", range=A_yrange,
                         automargin=False,
                         tickmode="linear", tick0=0, dtick=2.5, tickformat=".1f", ticks="outside", ticklen=3,
                         tickcolor=BORDER, tickfont=dict(size=9.5, color=TICKC, family=FONT),
                         showgrid=False, showline=False, zeroline=False, fixedrange=True)
fig.add_trace(go.Scatter(x=[None], y=[None], xaxis="x", yaxis="y14", showlegend=False, hoverinfo="skip"))

shapes.append(dict(type="rect", xref="paper", yref="paper", x0=xp(47), x1=xp(65), y0=yp(A_bot), y1=yp(A_top),
                   fillcolor="#D9D9D9", line=dict(color=BORDER, width=1), layer="above"))
annotations.append(note(a_row_label, xp(56), yp(182), 10.5, "#1A1A1A", angle=-90))
annotations.append(note("<b>A</b>", xp(22), yp(26), 32))
annotations.append(note("PTPRN Expression Level (log2 TPM)", xp(20), yp(172), 11.5, angle=-90))
annotations.append(note("Infiltration Level", xp(692), yp(294), 12.5))

# ---------- Panel B ----------
for i in range(6):
    k = 8 + i
    xa, ya = f"x{k}", f"y{k}"
    for g, (ts, ss, cens) in enumerate(b_curves[i]):
        col = COL_LOW if g == 0 else COL_HIGH
        end_t = max(max(cens), ts[-1])
        fig.add_trace(go.Scatter(x=ts + [end_t], y=ss + [ss[-1]], mode="lines",
                                 line=dict(color=col, width=1.1, shape="hv"),
                                 xaxis=xa, yaxis=ya, showlegend=False, hoverinfo="skip"))
    for g, (ts, ss, cens) in enumerate(b_curves[i]):
        early = early_cens_low if g == 0 else early_cens_high
        allc = early + cens
        fig.add_trace(go.Scatter(x=allc, y=[step_value(t, ts, ss) for t in allc], mode="markers",
                                 marker=dict(symbol="cross-thin", size=9, line=dict(color=CROSS, width=1.1)),
                                 xaxis=xa, yaxis=ya, showlegend=False, hoverinfo="skip"))

    layout[f"xaxis{k}"] = dict(
        domain=[xp(B_lefts[i]), xp(B_rights[i])], range=B_xrange, anchor=ya, automargin=False,
        tickmode="linear", tick0=0, dtick=50, tickformat="d",
        ticks="outside", ticklen=3, tickcolor=BORDER, tickfont=dict(size=10.5, color=TICKC, family=FONT),
        showgrid=True, gridcolor=GRID, gridwidth=1,
        minor=dict(tick0=0, dtick=25, showgrid=True, gridcolor=MINOR, gridwidth=0.8),
        showline=True, mirror=True, linecolor=BORDER, linewidth=1, zeroline=False, fixedrange=True)
    layout[f"yaxis{k}"] = dict(
        domain=[yp(B_bot), yp(B_top)], range=B_yrange, anchor=xa, automargin=False,
        tickmode="linear", tick0=0, dtick=0.25, tickformat=".2f",
        showticklabels=(i == 0), ticks="outside" if i == 0 else "", ticklen=3, tickcolor=BORDER,
        tickfont=dict(size=10.5, color=TICKC, family=FONT),
        showgrid=True, gridcolor=GRID, gridwidth=1,
        minor=dict(tick0=0, dtick=0.125, showgrid=True, gridcolor=MINOR, gridwidth=0.8),
        showline=True, mirror=True, linecolor=BORDER, linewidth=1, zeroline=False, fixedrange=True)

    shapes.append(dict(type="rect", xref="paper", yref="paper",
                       x0=xp(B_lefts[i]), x1=xp(B_rights[i]), y0=yp(B_top), y1=yp(B_strip_top),
                       fillcolor="#D9D9D9", line=dict(color="#D9D9D9", width=1), layer="above"))
    cx = xp((B_lefts[i] + B_rights[i]) / 2)
    annotations.append(note(b_panels[i], cx, yp((B_top + B_strip_top) / 2), 12, "#1A1A1A"))
    annotations.append(note(f"<b>{b_p_labels[i]}</b>", cx, yp(389), 24))

    # in-panel legend
    lx = B_leg_x[i]
    for g, name in enumerate(b_groups):
        col = COL_LOW if g == 0 else COL_HIGH
        yc = B_leg_y[i][g]
        shapes.append(dict(type="rect", xref=xa, yref=ya, x0=lx, x1=lx + 22, y0=yc - 0.015, y1=yc + 0.015,
                           fillcolor=col, line=dict(width=0), layer="above"))
        annotations.append(note(f"<b>{name}</b>", lx + 30, yc + B_leg_text_dy[g], 16.5, col,
                                xanchor="left", xref=xa, yref=ya))

annotations.append(note("<b>B</b>", xp(29), yp(357), 29))
annotations.append(note("Cumulative Survival", xp(19), yp(520), 13, angle=-90))
annotations.append(note("Time to Follow-Up (months)", xp(695), yp(649), 13))

fig.update_layout(
    width=W, height=H, margin=dict(l=0, r=0, t=0, b=0, pad=0, autoexpand=False),
    paper_bgcolor="white", plot_bgcolor="white",
    font=dict(family=FONT), showlegend=False,
    shapes=shapes, annotations=annotations, **layout)

fig.write_html("out.html", config={"displayModeBar": False},
               post_script="document.body.style.margin='0';document.body.style.overflow='hidden';")
